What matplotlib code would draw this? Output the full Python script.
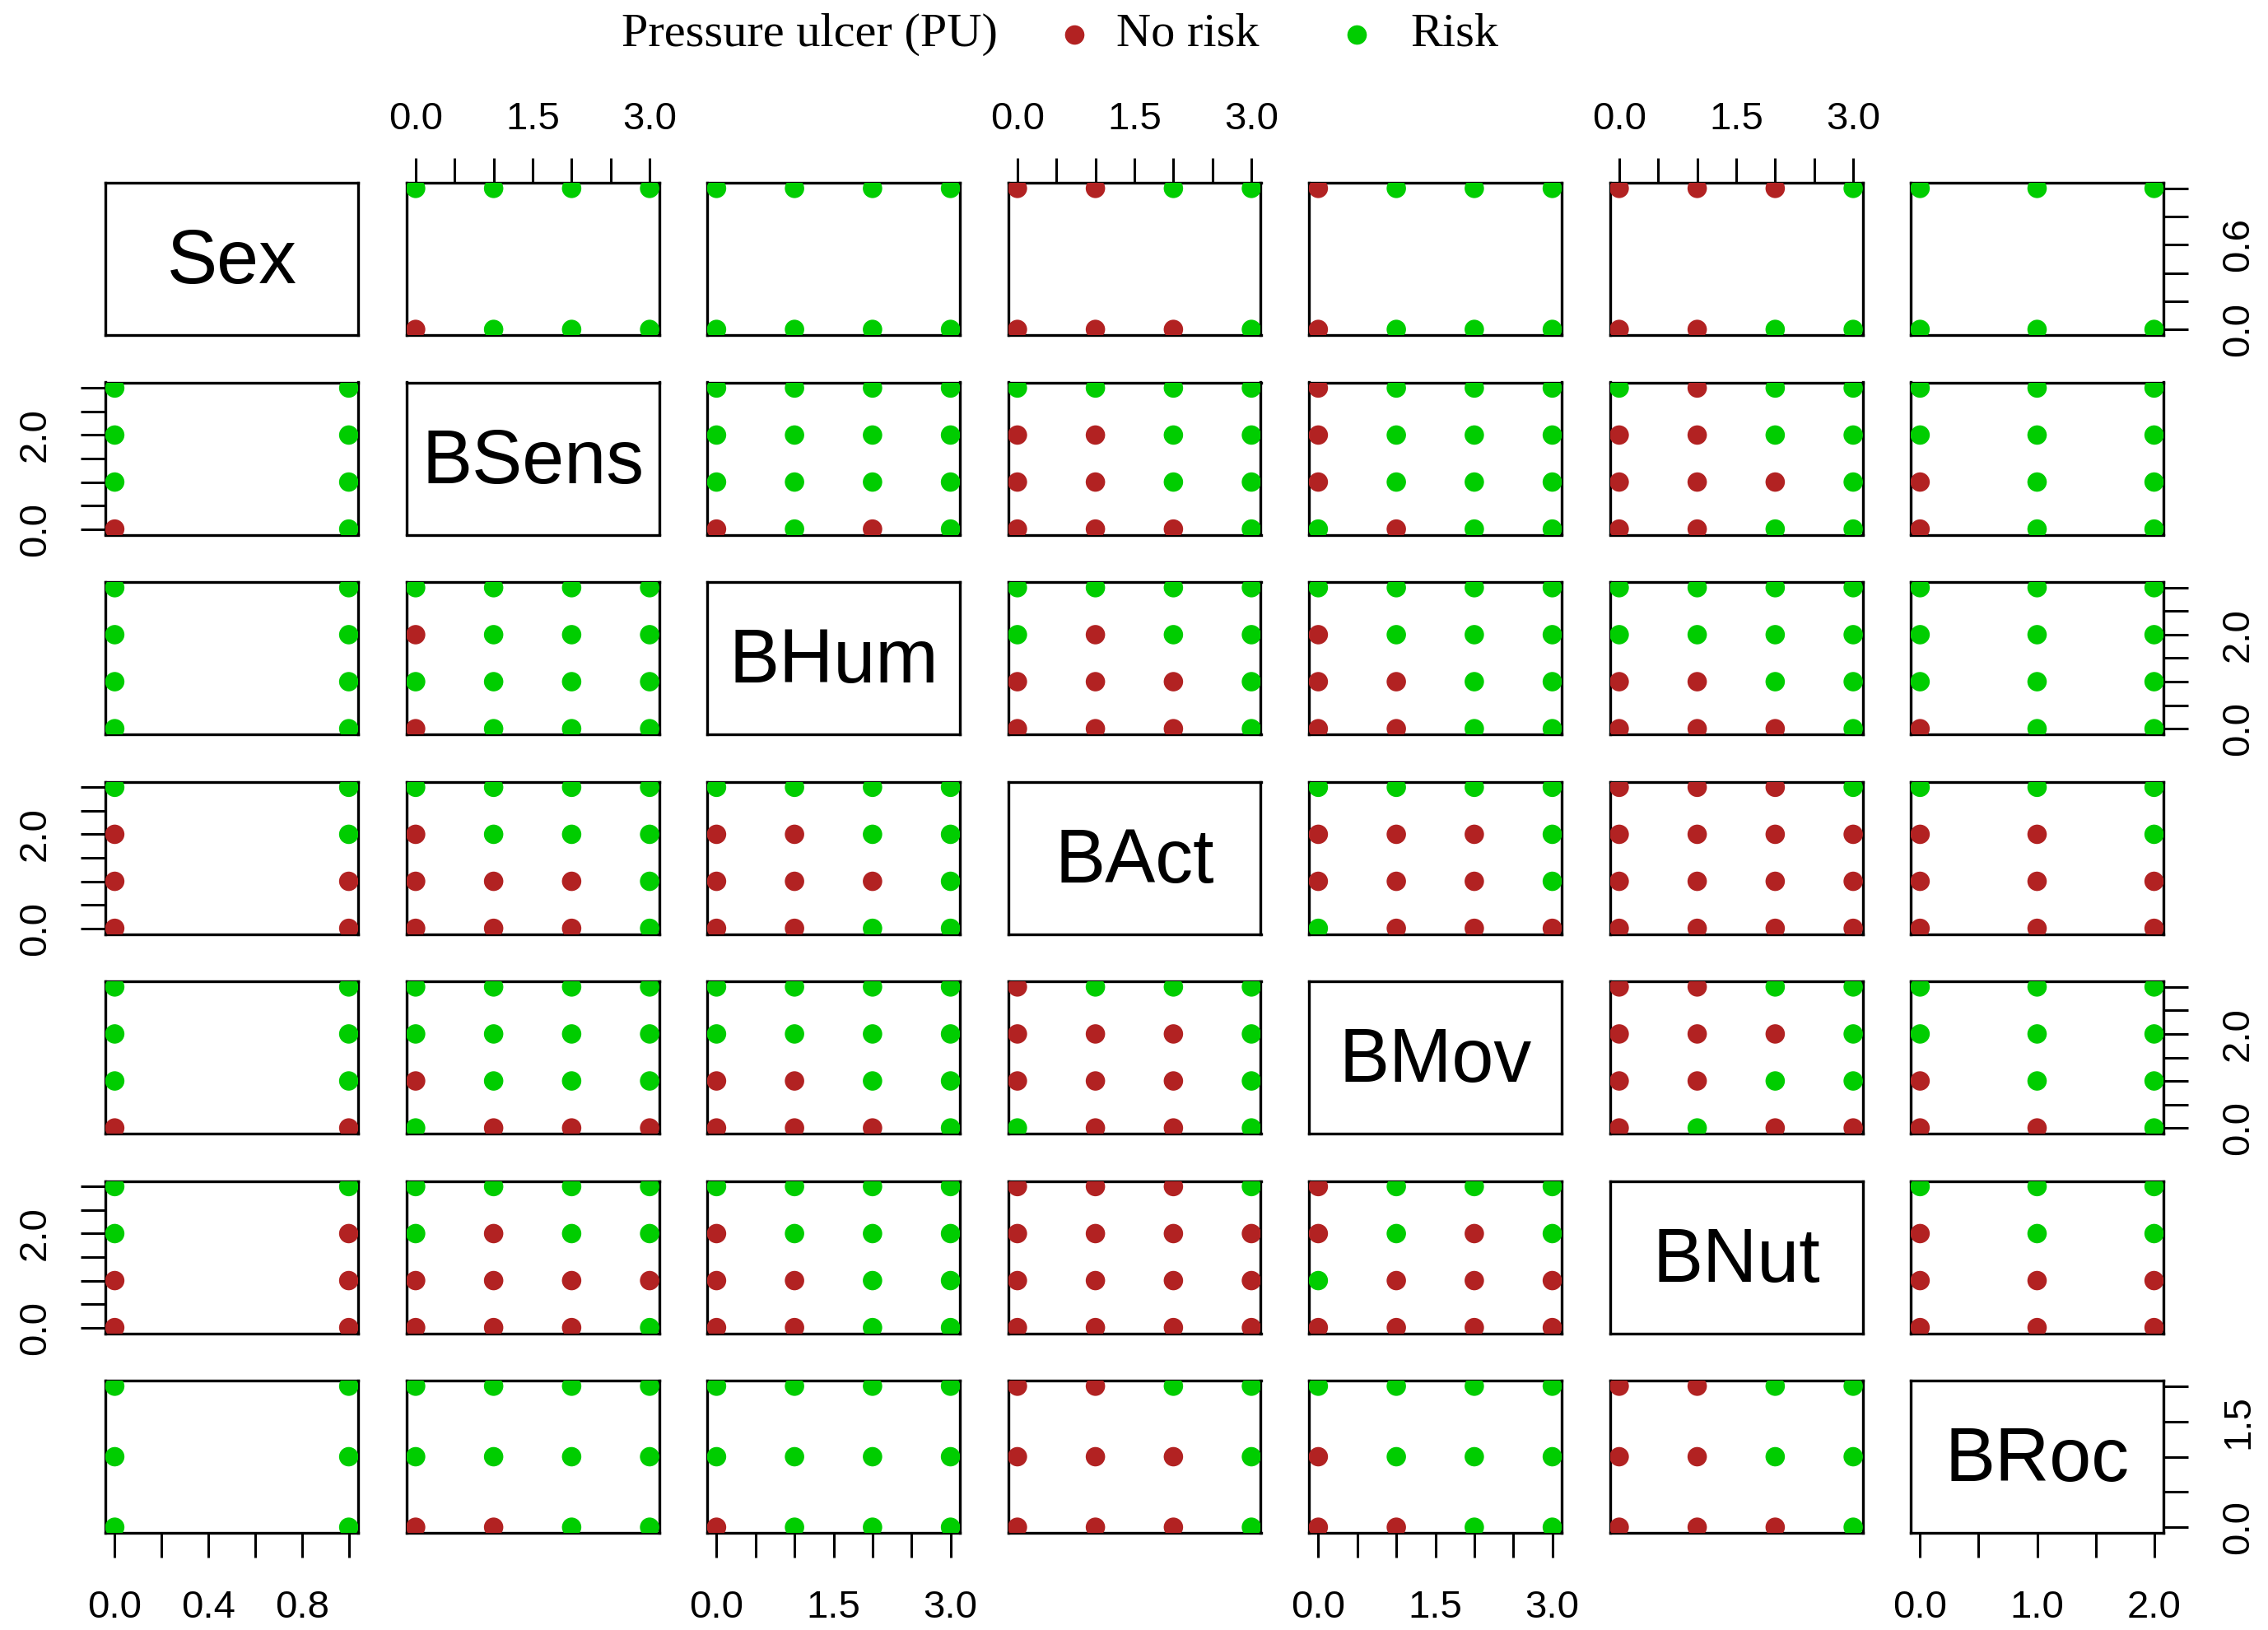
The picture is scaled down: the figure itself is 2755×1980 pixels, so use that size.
import numpy as np
import matplotlib
matplotlib.use("Agg")
import matplotlib.pyplot as plt
from matplotlib.lines import Line2D

plt.rcParams['font.family'] = ['Liberation Sans', 'DejaVu Sans']

# variables of the pairs plot
var_names = ["Sex", "BSens", "BHum", "BAct", "BMov", "BNut", "BRoc"]
var_levels = [[0, 1], [0, 1, 2, 3], [0, 1, 2, 3], [0, 1, 2, 3],
              [0, 1, 2, 3], [0, 1, 2, 3], [0, 1, 2]]

# pressure-ulcer class shown at each grid cell (0 = no risk, 1 = risk)
# rows = value of the first variable (0 upward), columns = value of the second
sex_bsens = [[0, 1, 1, 1], [1, 1, 1, 1]]
sex_bhum = [[1, 1, 1, 1], [1, 1, 1, 1]]
sex_bact = [[0, 0, 0, 1], [0, 0, 1, 1]]
sex_bmov = [[0, 1, 1, 1], [0, 1, 1, 1]]
sex_bnut = [[0, 0, 1, 1], [0, 0, 0, 1]]
sex_broc = [[1, 1, 1], [1, 1, 1]]

bsens_bhum = [[0, 1, 0, 1], [1, 1, 1, 1], [1, 1, 1, 1], [1, 1, 1, 1]]
bsens_bact = [[0, 0, 0, 1], [0, 0, 1, 1], [0, 0, 1, 1], [1, 1, 1, 1]]
bsens_bmov = [[1, 0, 1, 1], [0, 1, 1, 1], [0, 1, 1, 1], [0, 1, 1, 1]]
bsens_bnut = [[0, 0, 1, 1], [0, 0, 0, 1], [0, 0, 1, 1], [1, 0, 1, 1]]
bsens_broc = [[0, 1, 1], [0, 1, 1], [1, 1, 1], [1, 1, 1]]

bhum_bact = [[0, 0, 0, 1], [0, 0, 0, 1], [1, 0, 1, 1], [1, 1, 1, 1]]
bhum_bmov = [[0, 0, 1, 1], [0, 0, 1, 1], [0, 1, 1, 1], [1, 1, 1, 1]]
bhum_bnut = [[0, 0, 0, 1], [0, 0, 1, 1], [1, 1, 1, 1], [1, 1, 1, 1]]
bhum_broc = [[0, 1, 1], [1, 1, 1], [1, 1, 1], [1, 1, 1]]

bact_bmov = [[1, 0, 0, 0], [0, 0, 0, 1], [0, 0, 0, 1], [1, 1, 1, 1]]
bact_bnut = [[0, 0, 0, 0], [0, 0, 0, 0], [0, 0, 0, 0], [0, 0, 0, 1]]
bact_broc = [[0, 0, 0], [0, 0, 0], [0, 0, 1], [1, 1, 1]]

bmov_bnut = [[0, 1, 0, 0], [0, 0, 1, 1], [0, 0, 0, 1], [0, 0, 1, 1]]
bmov_broc = [[0, 0, 1], [0, 1, 1], [1, 1, 1], [1, 1, 1]]

bnut_broc = [[0, 0, 0], [0, 0, 0], [0, 1, 1], [1, 1, 1]]

pairs = {
    (0, 1): sex_bsens, (0, 2): sex_bhum, (0, 3): sex_bact, (0, 4): sex_bmov,
    (0, 5): sex_bnut, (0, 6): sex_broc,
    (1, 2): bsens_bhum, (1, 3): bsens_bact, (1, 4): bsens_bmov,
    (1, 5): bsens_bnut, (1, 6): bsens_broc,
    (2, 3): bhum_bact, (2, 4): bhum_bmov, (2, 5): bhum_bnut, (2, 6): bhum_broc,
    (3, 4): bact_bmov, (3, 5): bact_bnut, (3, 6): bact_broc,
    (4, 5): bmov_bnut, (4, 6): bmov_broc,
    (5, 6): bnut_broc,
}

class_labels = ["No risk", "Risk"]
class_colors = ["#B22222", "#00CD00"]

# axis ticks and which of them carry a label
tick_steps = [0.2, 0.5, 0.5, 0.5, 0.5, 0.5, 0.5]
labels_h = [[0.0, 0.4, 0.8]] + [[0.0, 1.5, 3.0]] * 5 + [[0.0, 1.0, 2.0]]
labels_v = [[0.0, 0.6]] + [[0.0, 2.0]] * 5 + [[0.0, 1.5]]

W, H, DPI = 2755, 1980, 200
fig = plt.figure(figsize=(W / DPI, H / DPI), dpi=DPI)

n = len(var_names)
pw, ph = 307, 185
for r in range(n):
    for c in range(n):
        x0 = 128 + c * 365.5
        y0 = 222 + r * 242.5
        ax = fig.add_axes([x0 / W, 1 - (y0 + ph) / H, pw / W, ph / H])
        for sp in ax.spines.values():
            sp.set_linewidth(1.2)
        xl, yl = var_levels[c], var_levels[r]
        xr = max(xl) - min(xl)
        yr = max(yl) - min(yl)
        ax.set_xlim(min(xl) - 0.04 * xr, max(xl) + 0.04 * xr)
        ax.set_ylim(min(yl) - 0.04 * yr, max(yl) + 0.04 * yr)

        if r == c:
            ax.text(0.5, 0.47, var_names[r], transform=ax.transAxes,
                    ha='center', va='center', fontsize=33)
        else:
            xs, ys, cs = [], [], []
            if r < c:
                grid = pairs[(r, c)]
                for j, yv in enumerate(yl):
                    for i, xv in enumerate(xl):
                        xs.append(xv); ys.append(yv); cs.append(class_colors[grid[j][i]])
            else:
                grid = pairs[(c, r)]
                for i, xv in enumerate(xl):
                    for j, yv in enumerate(yl):
                        xs.append(xv); ys.append(yv); cs.append(class_colors[grid[i][j]])
            ax.scatter(xs, ys, c=cs, s=72, linewidths=0, zorder=3)

        ax.tick_params(length=10.8, width=1.1, labelsize=17, direction='out')
        xt = np.arange(min(xl), max(xl) + 1e-9, tick_steps[c])
        xlab = [f"{v:.1f}" if any(abs(v - l) < 1e-9 for l in labels_h[c]) else "" for v in xt]
        if r == 0 and c % 2 == 1:
            ax.set_xticks(xt)
            ax.set_xticklabels(xlab)
            ax.tick_params(axis='x', top=True, bottom=False, labeltop=True,
                           labelbottom=False, pad=9)
        elif r == n - 1 and c % 2 == 0:
            ax.set_xticks(xt)
            ax.set_xticklabels(xlab)
            ax.tick_params(axis='x', pad=14)
        else:
            ax.set_xticks([])

        yt = np.arange(min(yl), max(yl) + 1e-9, tick_steps[r])
        ylab = [f"{v:.1f}" if any(abs(v - l) < 1e-9 for l in labels_v[r]) else "" for v in yt]
        if c == 0 and r % 2 == 1:
            ax.set_yticks(yt)
            ax.set_yticklabels(ylab, rotation=90, va='center')
            ax.tick_params(axis='y', pad=12)
        elif c == n - 1 and r % 2 == 0:
            ax.set_yticks(yt)
            ax.set_yticklabels(ylab, rotation=90, va='center')
            ax.tick_params(axis='y', left=False, right=True, labelleft=False,
                           labelright=True, pad=14)
        else:
            ax.set_yticks([])

# legend across the top
ly = 1 - 42 / H
fig.text(755 / W, ly, "Pressure ulcer (PU)", ha='left', va='center',
         fontsize=21, family='Liberation Serif')
for xm, xt_, lab, col in [(1305, 1356, class_labels[0], class_colors[0]),
                          (1648, 1713, class_labels[1], class_colors[1])]:
    fig.add_artist(Line2D([xm / W], [ly], transform=fig.transFigure, marker='o',
                          markersize=7.5, color=col, linestyle='none'))
    fig.text(xt_ / W, ly, lab, ha='left', va='center', fontsize=21,
             family='Liberation Serif')

fig.savefig("out.png", dpi=DPI)
